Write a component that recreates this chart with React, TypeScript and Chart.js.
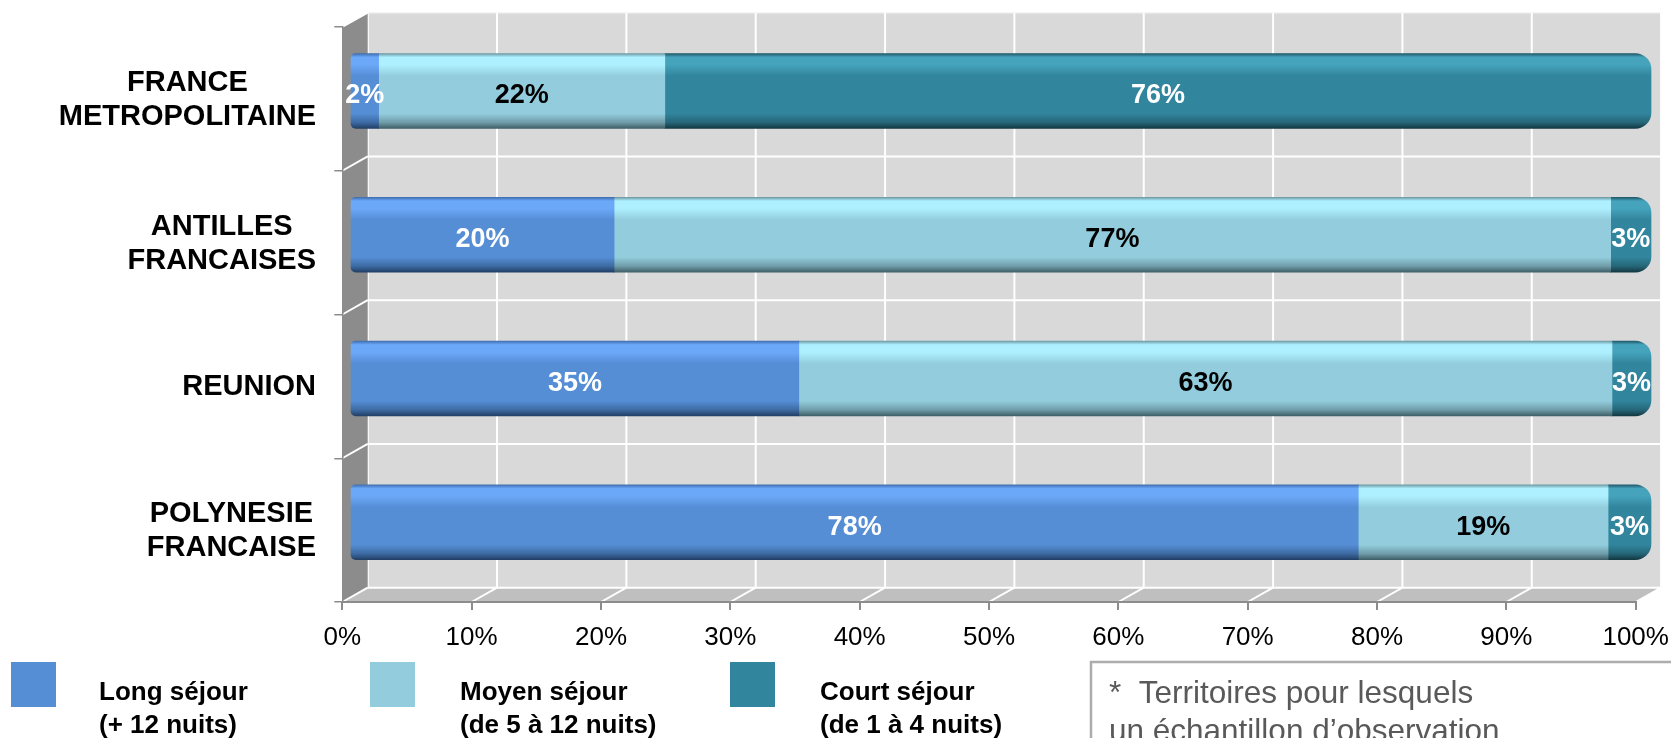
import React, { useEffect, useRef } from 'react';
import { Chart, registerables } from 'chart.js';

Chart.register(...registerables);

// ---------- data ----------
const CATEGORIES: string[][] = [
  ['FRANCE', 'METROPOLITAINE'],
  ['ANTILLES', 'FRANCAISES'],
  ['REUNION'],
  ['POLYNESIE', 'FRANCAISE'],
];
const LONG_SEJOUR = [2.2, 20.3, 34.5, 77.5];
const MOYEN_SEJOUR = [22.0, 76.6, 62.5, 19.2];
const COURT_SEJOUR = [75.8, 3.1, 3.0, 3.3];
const SERIES_NAMES = ['Long séjour', 'Moyen séjour', 'Court séjour'];
const SERIES_SUBTITLES = ['(+ 12 nuits)', '(de 5 à 12 nuits)', '(de 1 à 4 nuits)'];
const X_TICKS = [0, 10, 20, 30, 40, 50, 60, 70, 80, 90, 100];
const FOOTNOTE = ['*  Territoires pour lesquels', 'un échantillon d\u2019observation'];

// ---------- style ----------
const FONT = '"Liberation Sans", Arial, Helvetica, sans-serif';
const DX = 25.4; // depth offset
const DY = -14.3;
const BAR_LEFT_SHIFT = 7.7;
const BAR_RIGHT_SHIFT = 15.3;
const BAR_DY = -7.9;
const BAR_THICKNESS = 75;
const LABEL_DY = 5;

const COLORS = [
  { edge: '#3F6EB0', hi: '#6CA8F8', base: '#558ED5', dark: '#3D6AA2', bottom: '#223F66' },
  { edge: '#6C99A3', hi: '#AEF0FF', base: '#93CDDD', dark: '#6F9CA8', bottom: '#3E5F68' },
  { edge: '#1F5969', hi: '#45A3BC', base: '#31859C', dark: '#256678', bottom: '#133842' },
];
const LABEL_COLORS = ['#FFFFFF', '#000000', '#FFFFFF'];

function gradientFill(set: any) {
  return (c: any) => {
    const chart = c.chart;
    const ys = chart.scales && chart.scales.y;
    if (!ys || c.type !== 'data') return set.base;
    const yc = ys.getPixelForValue(c.dataIndex);
    if (!Number.isFinite(yc)) return set.base;
    const g = chart.ctx.createLinearGradient(0, yc - BAR_THICKNESS / 2, 0, yc + BAR_THICKNESS / 2);
    g.addColorStop(0, set.edge);
    g.addColorStop(0.05, set.hi);
    g.addColorStop(0.15, set.hi);
    g.addColorStop(0.3, set.base);
    g.addColorStop(0.8, set.base);
    g.addColorStop(0.92, set.dark);
    g.addColorStop(1, set.bottom);
    return g;
  };
}

function line(ctx: CanvasRenderingContext2D, x1: number, y1: number, x2: number, y2: number) {
  ctx.beginPath();
  ctx.moveTo(x1, y1);
  ctx.lineTo(x2, y2);
  ctx.stroke();
}

const wallsPlugin = {
  id: 'walls3d',
  beforeDraw(chart: any) {
    const { ctx, chartArea: a } = chart;
    const xs = chart.scales.x;
    const ys = chart.scales.y;
    const x0 = xs.getPixelForValue(0);
    const x1 = xs.getPixelForValue(100);
    const top = a.top;
    const bottom = a.bottom;
    ctx.save();
    // back wall
    ctx.fillStyle = '#D9D9D9';
    ctx.fillRect(x0 + DX, top + DY, x1 - x0, bottom - top);
    ctx.strokeStyle = '#F4F4F4';
    ctx.lineWidth = 1.5;
    ctx.strokeRect(x0 + DX, top + DY, x1 - x0, bottom - top);
    // vertical gridlines on back wall
    ctx.strokeStyle = '#FFFFFF';
    ctx.lineWidth = 2;
    X_TICKS.forEach((v) => {
      const px = xs.getPixelForValue(v) + DX;
      line(ctx, px, top + DY, px, bottom + DY);
    });
    // side wall
    ctx.fillStyle = '#8C8C8C';
    ctx.beginPath();
    ctx.moveTo(x0, top);
    ctx.lineTo(x0 + DX, top + DY);
    ctx.lineTo(x0 + DX, bottom + DY);
    ctx.lineTo(x0, bottom);
    ctx.closePath();
    ctx.fill();
    // category boundaries: back wall horizontals + side wall slants
    const n = chart.data.labels.length;
    const bounds: number[] = [top];
    for (let i = 1; i < n; i++) {
      bounds.push((ys.getPixelForValue(i - 1) + ys.getPixelForValue(i)) / 2);
    }
    ctx.strokeStyle = '#FFFFFF';
    ctx.lineWidth = 2;
    bounds.forEach((b, i) => {
      if (i > 0) line(ctx, x0 + DX, b + DY, x1 + DX, b + DY);
      line(ctx, x0, b, x0 + DX, b + DY);
    });
    // floor
    ctx.fillStyle = '#BFBFBF';
    ctx.beginPath();
    ctx.moveTo(x0, bottom);
    ctx.lineTo(x1, bottom);
    ctx.lineTo(x1 + DX, bottom + DY);
    ctx.lineTo(x0 + DX, bottom + DY);
    ctx.closePath();
    ctx.fill();
    ctx.strokeStyle = '#FFFFFF';
    ctx.lineWidth = 2;
    line(ctx, x0 + DX, bottom + DY, x1 + DX, bottom + DY);
    X_TICKS.forEach((v) => {
      const px = xs.getPixelForValue(v);
      line(ctx, px, bottom, px + DX, bottom + DY);
    });
    ctx.restore();
  },
};

function barMapper(chart: any) {
  const xs = chart.scales.x;
  const x0 = xs.getPixelForValue(0);
  const x1 = xs.getPixelForValue(100);
  const k = (x1 + BAR_RIGHT_SHIFT - x0 - BAR_LEFT_SHIFT) / (x1 - x0);
  return { x0, k };
}

const barPlanePlugin = {
  id: 'barPlane',
  beforeDatasetsDraw(chart: any) {
    const { ctx } = chart;
    const { x0, k } = barMapper(chart);
    ctx.save();
    ctx.translate(x0 + BAR_LEFT_SHIFT, BAR_DY);
    ctx.scale(k, 1);
    ctx.translate(-x0, 0);
  },
  afterDatasetsDraw(chart: any) {
    const { ctx } = chart;
    ctx.restore();
    const { x0, k } = barMapper(chart);
    const mapX = (fx: number) => x0 + BAR_LEFT_SHIFT + (fx - x0) * k;
    ctx.save();
    ctx.font = `bold 27px ${FONT}`;
    ctx.textAlign = 'center';
    ctx.textBaseline = 'middle';
    chart.data.datasets.forEach((ds: any, di: number) => {
      const meta = chart.getDatasetMeta(di);
      ctx.fillStyle = LABEL_COLORS[di];
      meta.data.forEach((el: any, i: number) => {
        const { x, y, base } = el.getProps(['x', 'y', 'base'], true);
        const cx = mapX((x + base) / 2);
        ctx.fillText(`${Math.round(ds.data[i])}%`, cx, y + BAR_DY + LABEL_DY);
      });
    });
    ctx.restore();
  },
};

const decorPlugin = {
  id: 'decor',
  afterDraw(chart: any) {
    const { ctx } = chart;
    const ys = chart.scales.y;
    ctx.save();
    // category labels: block right-aligned, lines centred within block
    ctx.font = `bold 29px ${FONT}`;
    ctx.fillStyle = '#000000';
    ctx.textBaseline = 'middle';
    ctx.textAlign = 'center';
    const right = 316;
    const lh = 34;
    (chart.data.labels as string[][]).forEach((lines, i) => {
      const w = Math.max(...lines.map((l) => ctx.measureText(l).width));
      const cx = right - w / 2;
      const cy = ys.getPixelForValue(i) + 1;
      lines.forEach((l, j) => {
        ctx.fillText(l, cx, cy + (j - (lines.length - 1) / 2) * lh);
      });
    });

    // legend
    const sqX = [11, 370, 730];
    const txX = [99, 460, 820];
    ctx.textAlign = 'left';
    ctx.textBaseline = 'alphabetic';
    SERIES_NAMES.forEach((name, i) => {
      ctx.fillStyle = COLORS[i].base;
      ctx.fillRect(sqX[i], 662, 45, 45);
      ctx.fillStyle = '#000000';
      ctx.font = `bold 26px ${FONT}`;
      ctx.fillText(name, txX[i], 700);
      ctx.fillText(SERIES_SUBTITLES[i], txX[i], 733);
    });

    // footnote box
    ctx.strokeStyle = '#ADADAD';
    ctx.lineWidth = 2.5;
    ctx.strokeRect(1091, 662, 700, 200);
    ctx.fillStyle = '#595959';
    ctx.font = `31.5px ${FONT}`;
    ctx.fillText(FOOTNOTE[0], 1109, 703);
    ctx.fillText(FOOTNOTE[1], 1109, 741);
    ctx.restore();
  },
};

export default function App() {
  const ref = useRef<HTMLCanvasElement>(null);

  useEffect(() => {
    if (!ref.current) return;
    const values = [LONG_SEJOUR, MOYEN_SEJOUR, COURT_SEJOUR];
    const radii = [
      { topLeft: 5, bottomLeft: 5, topRight: 0, bottomRight: 0 },
      0,
      { topLeft: 0, bottomLeft: 0, topRight: 16, bottomRight: 16 },
    ];
    const chart = new Chart(ref.current, {
      type: 'bar',
      data: {
        labels: CATEGORIES as any,
        datasets: SERIES_NAMES.map((name, i) => ({
          label: name,
          data: values[i],
          backgroundColor: gradientFill(COLORS[i]) as any,
          borderWidth: 0,
          borderSkipped: false,
          borderRadius: radii[i] as any,
          barThickness: BAR_THICKNESS,
          clip: false as any,
        })),
      },
      options: {
        indexAxis: 'y',
        responsive: false,
        animation: false,
        devicePixelRatio: 1,
        events: [],
        layout: { padding: { top: 27, right: 35.3, left: 0, bottom: 0 } },
        plugins: {
          legend: { display: false },
          tooltip: { enabled: false },
        },
        scales: {
          x: {
            type: 'linear',
            stacked: true,
            min: 0,
            max: 100,
            position: 'bottom',
            afterBuildTicks: (s: any) => {
              s.ticks = X_TICKS.map((v) => ({ value: v }));
            },
            afterFit: (s: any) => {
              s.height = 136;
              s.paddingLeft = 0;
              s.paddingRight = 0;
            },
            ticks: {
              callback: (v: any) => `${v}%`,
              font: { family: FONT, size: 26 },
              color: '#000000',
              padding: 12,
              maxRotation: 0,
              minRotation: 0,
              autoSkip: false,
            },
            grid: {
              drawOnChartArea: false,
              drawTicks: true,
              tickLength: 8,
              color: '#8C8C8C',
              lineWidth: 2,
            },
            border: { display: true, color: '#8C8C8C', width: 2 },
          },
          y: {
            type: 'category',
            stacked: true,
            position: 'left',
            afterFit: (s: any) => {
              s.width = 342.3;
              s.paddingTop = 0;
              s.paddingBottom = 0;
            },
            ticks: { display: false },
            grid: {
              offset: true,
              drawOnChartArea: false,
              drawTicks: true,
              tickLength: 8,
              color: '#8C8C8C',
              lineWidth: 1.5,
            },
            border: { display: true, color: '#8C8C8C', width: 1.5 },
          },
        },
      } as any,
      plugins: [wallsPlugin, barPlanePlugin, decorPlugin],
    });
    return () => chart.destroy();
  }, []);

  return (
    <div style={{ position: 'absolute', left: 0, top: 0, width: 1671, height: 738, background: '#ffffff' }}>
      <canvas ref={ref} width={1671} height={738} style={{ display: 'block', width: 1671, height: 738 }} />
    </div>
  );
}
